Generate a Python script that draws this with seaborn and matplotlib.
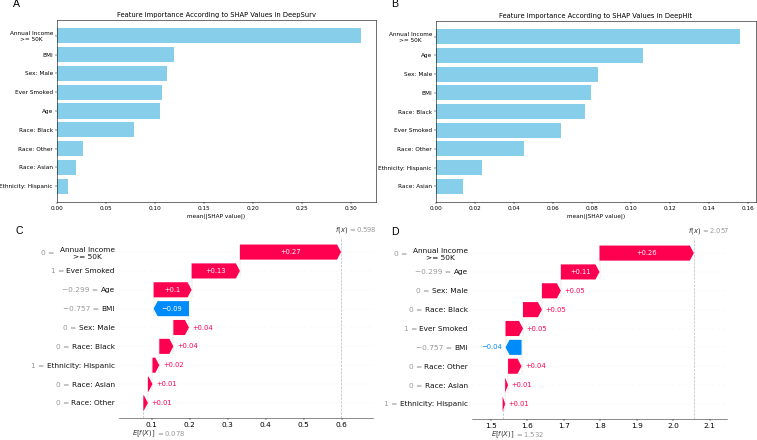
import numpy as np
import pandas as pd
import matplotlib
matplotlib.use("Agg")
import matplotlib.pyplot as plt
import matplotlib.transforms as mtransforms
import seaborn as sns

# ---------------- data ----------------
a_features = ["Annual Income\n>= 50K", "BMI", "Sex: Male", "Ever Smoked", "Age",
              "Race: Black", "Race: Other", "Race: Asian", "Ethnicity: Hispanic"]
a_values = [0.310, 0.119, 0.112, 0.107, 0.105, 0.079, 0.027, 0.019, 0.011]
a_title = "Feature Importance According to SHAP Values in DeepSurv"

b_features = ["Annual Income\n>= 50K", "Age", "Sex: Male", "BMI", "Race: Black",
              "Ever Smoked", "Race: Other", "Ethnicity: Hispanic", "Race: Asian"]
b_values = [0.156, 0.106, 0.083, 0.0795, 0.0765, 0.064, 0.045, 0.0236, 0.0137]
b_title = "Feature Importance According to SHAP Values in DeepHit"

c_features = ["Annual Income\n>= 50K", "Ever Smoked", "Age", "BMI", "Sex: Male",
              "Race: Black", "Ethnicity: Hispanic", "Race: Asian", "Race: Other"]
c_feature_values = [0, 1, -0.299, -0.757, 0, 0, 1, 0, 0]
c_shap = [0.266, 0.127, 0.100, -0.093, 0.041, 0.037, 0.018, 0.012, 0.012]
c_base = 0.078
c_xlim = (0.014, 0.682)

d_features = ["Annual Income\n>= 50K", "Age", "Sex: Male", "Race: Black", "Ever Smoked",
              "BMI", "Race: Other", "Race: Asian", "Ethnicity: Hispanic"]
d_feature_values = [0, -0.299, 0, 0, 1, -0.757, 0, 0, 1]
d_shap = [0.259, 0.106, 0.052, 0.052, 0.048, -0.044, 0.037, 0.008, 0.007]
d_base = 1.532
d_xlim = (1.448, 2.148)

RED = "#ff0051"
BLUE = "#008bfb"
BAR = "#87CEEB"

W, H = 757, 440
fig = plt.figure(figsize=(W / 100, H / 100), dpi=100)


def fpos(l, r, t, b):
    return [l / W, 1 - b / H, (r - l) / W, (b - t) / H]


def fmt(v, f):
    s = f % v
    s = s.rstrip("0").rstrip(".")
    if s.startswith("-"):
        s = "\u2212" + s[1:]
    return s


def bar_panel(ax, feats, vals, title):
    df = pd.DataFrame({"feature": feats, "value": vals})
    sns.barplot(data=df, x="value", y="feature", orient="y", color=BAR,
                saturation=1, width=0.8, ax=ax)
    n = len(feats)
    ax.set_ylim(n - 1 + 0.84, -0.84)
    ax.set_title(title, fontsize=4.9, pad=2.5)
    ax.set_xlabel("mean(|SHAP value|)", fontsize=4.15, labelpad=1.6)
    ax.set_ylabel("")
    ax.tick_params(labelsize=4.15, length=1.45, width=0.33, pad=1.45)
    for s in ax.spines.values():
        s.set_linewidth(0.4)
    for lab in ax.get_yticklabels():
        lab.set_multialignment("center")


def waterfall(ax, names, fvals, svals, base, xlim):
    n = len(names)
    rows = np.arange(n)
    lefts = np.empty(n)
    cum = base
    for i in range(n - 1, -1, -1):
        lefts[i] = cum
        cum += svals[i]
    fx = cum
    ax.set_xlim(*xlim)
    ax.set_ylim(n - 1 + 0.8, -0.8)
    renderer = fig.canvas.get_renderer()
    bbox = ax.get_window_extent(renderer)
    xr = xlim[1] - xlim[0]
    px_per_unit = bbox.width / xr
    hl = 4.0 / px_per_unit
    off = (2.6 / 72 * fig.dpi) / px_per_unit

    for r in rows:
        ax.axhline(r, color="#cccccc", lw=0.3, linestyle=(0, (1, 5)), zorder=-1)
    for i in range(n - 1):
        ax.plot([lefts[i], lefts[i]], [i + 1 + 0.4, i - 0.4], color="#bbbbbb",
                linestyle="--", lw=0.3, zorder=-1)
    ax.axvline(base, 0, 1 / n, color="#bbbbbb", linestyle="--", lw=0.5, zorder=-1)
    ax.axvline(fx, 0, 1, color="#bbbbbb", linestyle="--", lw=0.5, zorder=-1)

    for i in range(n):
        v = svals[i]
        y = rows[i]
        x0 = lefts[i]
        col = RED if v > 0 else BLUE
        sign = 1 if v > 0 else -1
        dist = abs(v)
        hlen = min(dist, hl)
        body = max(dist - hl, 1e-6)
        arr = ax.arrow(x0, y, sign * body, 0, width=0.8, head_width=0.8,
                       head_length=hlen, color=col, lw=0)
        lab = fmt(v, "%+0.02f")
        t = ax.text(x0 + v / 2, y, lab, ha="center", va="center", color="white",
                    fontsize=4.9)
        tb = t.get_window_extent(renderer)
        ab = arr.get_window_extent(renderer)
        if tb.width > ab.width:
            t.remove()
            if v > 0:
                ax.text(x0 + v + off, y, lab, ha="left", va="center", color=col,
                        fontsize=4.9)
            else:
                ax.text(x0 + v - off, y, lab, ha="right", va="center", color=col,
                        fontsize=4.9)

    ax.set_yticks(rows)
    ax.set_yticklabels(names, fontsize=5.35, color="#111111")
    ax.tick_params(axis="y", length=0, pad=3)
    ax.tick_params(axis="x", labelsize=5.35, length=1.45, width=0.33, pad=1.45)
    for s in ["top", "right", "left"]:
        ax.spines[s].set_visible(False)
    ax.spines["bottom"].set_linewidth(0.4)
    ax.spines["bottom"].set_color("#333333")
    for lab, fv, name in zip(ax.get_yticklabels(), fvals, names):
        lab.set_multialignment("center")
        gap = 4.3 if "\n" in name else 1.6
        ax.annotate(fmt(fv, "%0.03f") + " =", xy=(0, 0.5), xycoords=lab,
                    xytext=(-gap, 0), textcoords="offset points", ha="right",
                    va="center", color="#999999", fontsize=5.35)

    trans = mtransforms.blended_transform_factory(ax.transData, ax.transAxes)
    ax.annotate("$E[f(X)]$", xy=(base, 0), xycoords=trans, xytext=(-8.2, -11.5),
                textcoords="offset points", ha="left", va="center", fontsize=4.9,
                color="#333333", annotation_clip=False)
    ax.annotate("$ = " + fmt(base, "%0.03f") + "$", xy=(base, 0), xycoords=trans,
                xytext=(9.0, -11.5), textcoords="offset points", ha="left",
                va="center", fontsize=4.9, color="#999999", annotation_clip=False)
    ax.annotate("$f(x)$", xy=(fx, 1), xycoords=trans, xytext=(-4.1, 5.3),
                textcoords="offset points", ha="left", va="center", fontsize=4.9,
                color="#333333", annotation_clip=False)
    ax.annotate("$ = " + fmt(fx, "%0.03f") + "$", xy=(fx, 1), xycoords=trans,
                xytext=(4.9, 5.3), textcoords="offset points", ha="left",
                va="center", fontsize=4.9, color="#999999", annotation_clip=False)


axA = fig.add_axes(fpos(57, 376, 20, 202))
axB = fig.add_axes(fpos(436, 755.5, 21, 202))
axC = fig.add_axes(fpos(119, 373, 237, 418))
axD = fig.add_axes(fpos(472, 727, 238, 419))

bar_panel(axA, a_features, a_values, a_title)
bar_panel(axB, b_features, b_values, b_title)
waterfall(axC, c_features, c_feature_values, c_shap, c_base, c_xlim)
waterfall(axD, d_features, d_feature_values, d_shap, d_base, d_xlim)

letter_kw = dict(fontsize=7.6, family="Liberation Sans", va="bottom", ha="left")
fig.text(12.5 / W, 1 - 8.6 / H, "A", **letter_kw)
fig.text(391 / W, 1 - 8.6 / H, "B", **letter_kw)
fig.text(15 / W, 1 - 236.3 / H, "C", **letter_kw)
fig.text(391 / W, 1 - 236.8 / H, "D", **letter_kw)

fig.canvas.draw()
fig.savefig("out.png", dpi=100)
